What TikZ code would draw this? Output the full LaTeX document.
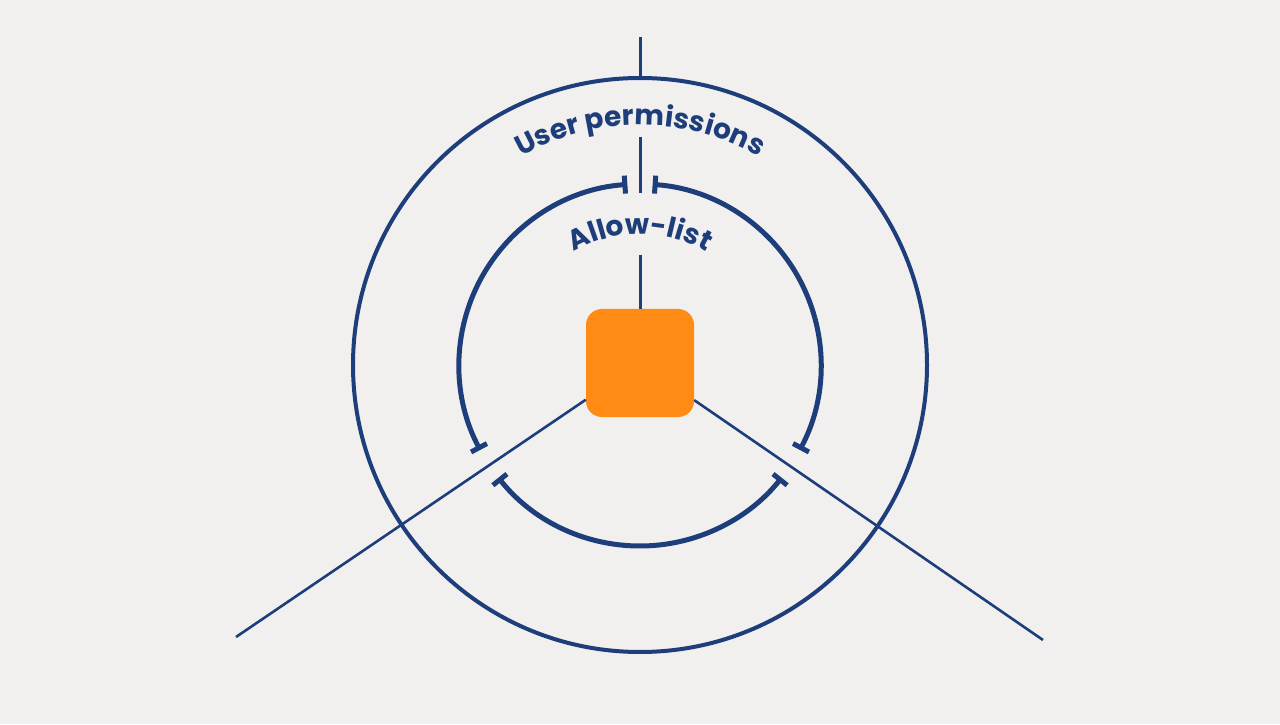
\documentclass[tikz,border=0pt]{standalone}
\usepackage{fontspec}
\setmainfont{Poppins}
\usetikzlibrary{arrows.meta,decorations.text}
\definecolor{navy}{HTML}{1D3E7A}
\definecolor{tangerine}{HTML}{FF8A14}
\definecolor{paper}{HTML}{F1F0EE}
\newcommand\ringfont{\color{navy}\bfseries\fontsize{28}{30}\selectfont}
\tikzset{
    outer-ring/.style = {draw=navy, line width=4pt, circle, minimum size=574pt, inner sep=0pt},
    inner-arc/.style = {draw=navy, line width=5pt, {Bar[width=18pt]}-{Bar[width=18pt]}},
    stem/.style = {draw=navy, line width=3pt},
    spoke/.style = {draw=navy, line width=2.6pt},
    core-box/.style = {fill=tangerine, rectangle, rounded corners=16pt, minimum size=108pt, inner sep=0pt},
}

\begin{document}
\begin{tikzpicture}[x=1pt,y=1pt]
\fill[paper] (0,0) rectangle (1280,724);
\useasboundingbox (0,0) rectangle (1280,724);
\coordinate (O) at (640,359);
\node[outer-ring] (outer) at (O) {};
\node[core-box] (core) at (640,361) {};

% stems on the vertical axis
\coordinate (top-end) at (640,687);
\coordinate (gap-top) at (640,587);
\coordinate (gap-bot) at (640,531);
\coordinate (list-foot) at (640,469);
\draw[stem] (top-end) -- (outer.north);
\draw[stem] (gap-top) -- (gap-bot);
\draw[stem] (list-foot) -- (core.north);

% spokes through the gaps
\coordinate (left-end) at (236,87);
\coordinate (right-end) at (1043,84);
\draw[spoke] (core) -- (left-end);
\draw[spoke] (core) -- (right-end);

% broken inner ring
\foreach \a/\b in {94/208, 218.5/321.5, 332/446}
    \draw[inner-arc] ([shift={(\a:181)}]O) arc[start angle=\a, end angle=\b, radius=181];

% curved labels
\path[decorate, decoration={text along path, text align=center, text={|\ringfont|User permissions}}]
    ([shift={(150:240)}]O) arc[start angle=150, end angle=30, radius=240];
\path[decorate, decoration={text along path, text align=center, text={|\ringfont|Allow-list}}]
    ([shift={(160:131)}]O) arc[start angle=160, end angle=20, radius=131];
\end{tikzpicture}
\end{document}
